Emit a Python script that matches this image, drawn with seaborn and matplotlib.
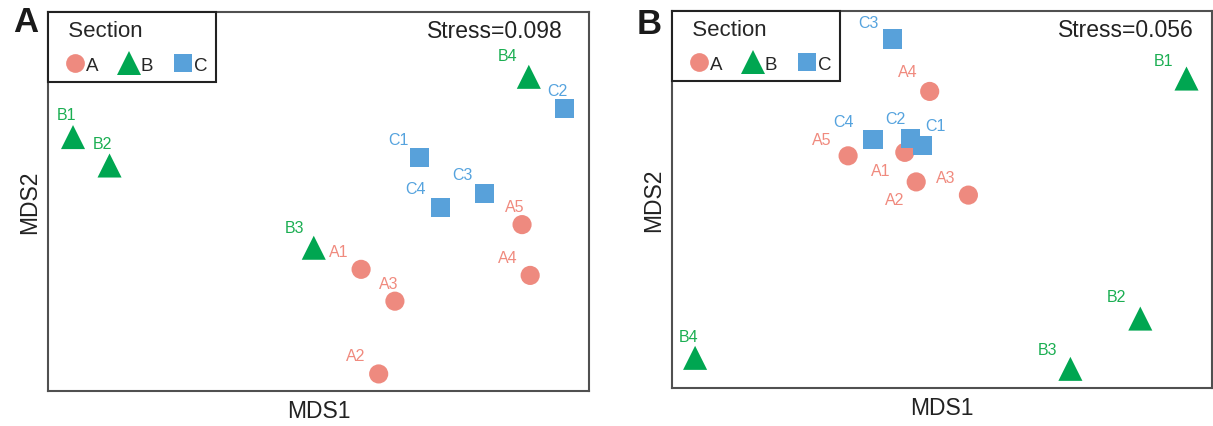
import numpy as np
import pandas as pd
import matplotlib
matplotlib.use("Agg")
import matplotlib.pyplot as plt
import seaborn as sns
from matplotlib.lines import Line2D

# ---------------- data ----------------
sections = ["A", "B", "C"]

# Panel A (Stress = 0.098)
samples_a = ["A1", "A2", "A3", "A4", "A5", "B1", "B2", "B3", "B4", "C1", "C2", "C3", "C4"]
mds1_a = [0.126, 0.178, 0.226, 0.626, 0.602, -0.726, -0.618, -0.014, 0.622, 0.298, 0.728, 0.491, 0.360]
mds2_a = [-0.179, -0.455, -0.263, -0.195, -0.061, 0.170, 0.095, -0.122, 0.329, 0.117, 0.245, 0.022, -0.015]
stress_a = "Stress=0.098"

# Panel B (Stress = 0.056)
samples_b = ["A1", "A2", "A3", "A4", "A5", "B1", "B2", "B3", "B4", "C1", "C2", "C3", "C4"]
mds1_b = [-0.124, -0.086, 0.088, -0.041, -0.313, 0.815, 0.661, 0.428, -0.823, -0.065, -0.106, -0.164, -0.230]
mds2_b = [0.150, 0.056, 0.014, 0.344, 0.139, 0.385, -0.379, -0.539, -0.504, 0.173, 0.194, 0.511, 0.191]
stress_b = "Stress=0.056"

# ---------------- styles ----------------
marker_colors = {"A": "#EE8A7F", "B": "#00A651", "C": "#58A1DA"}
label_colors = {"A": "#F08A7E", "B": "#1BAE52", "C": "#55A3DE"}
markers = {"A": "o", "B": "^", "C": "s"}
sizes = {"A": 190, "B": 300, "C": 190}

# label offsets (pixels: dx, dy upward)
offs_a = {"A1": (-22, 18), "A2": (-23, 18), "A3": (-6, 18), "A4": (-22, 18), "A5": (-7, 18),
          "B1": (-7, 23), "B2": (-7, 22), "B3": (-19, 20), "B4": (-21, 21),
          "C1": (-21, 18), "C2": (-7, 18), "C3": (-22, 19), "C4": (-25, 19)}
offs_b = {"A1": (-24, -18), "A2": (-22, -18), "A3": (-23, 18), "A4": (-22, 20), "A5": (-26, 16),
          "B1": (-23, 18), "B2": (-24, 22), "B3": (-23, 19), "B4": (-7, 21),
          "C1": (13, 20), "C2": (-15, 20), "C3": (-24, 16), "C4": (-29, 18)}

sns.set_theme(style="white")
plt.rcParams["font.family"] = ["Liberation Sans", "DejaVu Sans"]

fig = plt.figure(figsize=(12.13, 4.27), dpi=100)
axA = fig.add_axes([48 / 1213, 1 - 392 / 427, 541 / 1213, 379 / 427])
axB = fig.add_axes([672 / 1213, 1 - 389 / 427, 540 / 1213, 377 / 427])


def draw(ax, samples, x, y, offs, stress, xlim, ylim, stress_x):
    df = pd.DataFrame({"Sample": samples, "MDS1": x, "MDS2": y})
    df["Section"] = df["Sample"].str[0]
    sns.scatterplot(data=df, x="MDS1", y="MDS2", hue="Section", style="Section",
                    size="Section", hue_order=sections, style_order=sections,
                    size_order=sections, palette=marker_colors, markers=markers,
                    sizes=sizes, linewidth=0, alpha=1, legend=False, ax=ax, zorder=3)
    for _, r in df.iterrows():
        ax.annotate(r["Sample"], (r["MDS1"], r["MDS2"]), xytext=offs[r["Sample"]],
                    textcoords="offset pixels", ha="center", va="center",
                    color=label_colors[r["Section"]], fontsize=11.5, zorder=4)
    ax.set_xlim(*xlim)
    ax.set_ylim(*ylim)
    ax.set_xticks([])
    ax.set_yticks([])
    ax.set_xlabel("MDS1", fontsize=16.5, labelpad=6, color="#222222")
    ax.set_ylabel("MDS2", fontsize=16.5, labelpad=5, color="#222222")
    for s in ax.spines.values():
        s.set_color("#505050")
        s.set_linewidth(1.5)
    ax.text(stress_x, 0.952, stress, transform=ax.transAxes, ha="right", va="center",
            fontsize=16.5, color="#222222")
    handles = [Line2D([], [], marker=markers[k], color=marker_colors[k], linestyle="",
                      markersize=(17 if k == "B" else 13.5), markeredgewidth=0) for k in sections]
    leg = ax.legend(handles, sections, title="  Section", loc="upper left",
                    bbox_to_anchor=(0, 1), borderaxespad=0, ncol=3, frameon=True,
                    fancybox=False, edgecolor="#222222", fontsize=13.5, title_fontsize=16,
                    alignment="left", handlelength=2.0, handletextpad=-0.4,
                    columnspacing=0.6, borderpad=0.45, labelspacing=0.8, framealpha=1)
    leg.get_frame().set_linewidth(1.5)
    leg.set_zorder(5)


draw(axA, samples_a, mds1_a, mds2_a, offs_a, stress_a, (-0.8, 0.8), (-0.5, 0.5), 0.952)
draw(axB, samples_b, mds1_b, mds2_b, offs_b, stress_b, (-0.9, 0.9), (-0.6, 0.6), 0.967)

fig.text(26 / 1213, 1 - 23 / 427, "A", fontsize=25, fontweight="bold", ha="center", va="center", color="#1a1a1a")
fig.text(649 / 1213, 1 - 24 / 427, "B", fontsize=25, fontweight="bold", ha="center", va="center", color="#1a1a1a")

fig.savefig("out.png", dpi=100)
